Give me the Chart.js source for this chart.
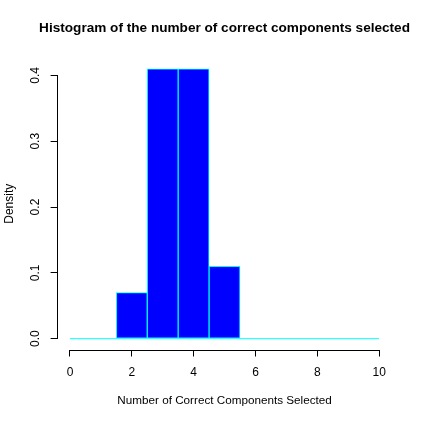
<!DOCTYPE html>
<html lang="en">
<head>
<meta charset="UTF-8">
<title>Histogram of the number of correct components selected</title>
<script src="https://cdn.jsdelivr.net/npm/chart.js@4"></script>
<style>
  body { margin: 0; background: #fff; }
  canvas { display: block; }
</style>
</head>
<body>
<canvas id="hist" width="421" height="421"></canvas>
<script>
// bin centres (unit width bins) and their densities
const binCentres = [0, 1, 2, 3, 4, 5, 6, 7, 8, 9, 10];
const densities = [0, 0, 0.07, 0.41, 0.41, 0.11, 0, 0, 0, 0, 0];
const baselineX = [0, 10];
const xTicks = [0, 2, 4, 6, 8, 10];
const yTicks = [0, 0.1, 0.2, 0.3, 0.4];
const mainTitle = 'Histogram of the number of correct components selected';

const font = "'Liberation Sans', Arial, Helvetica, sans-serif";
Chart.defaults.font.family = font;
Chart.defaults.color = '#000';

// R style: title centred over the plot region, detached axis lines, vertical y labels
const rAxes = {
  id: 'rAxes',
  afterDraw(chart) {
    const ctx = chart.ctx, area = chart.chartArea;
    const xs = chart.scales.x, ys = chart.scales.y;
    ctx.save();
    ctx.strokeStyle = '#000';
    ctx.lineWidth = 1;
    ctx.beginPath();
    const yy = Math.round(area.bottom) + 0.5;
    ctx.moveTo(xs.getPixelForValue(xTicks[0]), yy);
    ctx.lineTo(xs.getPixelForValue(xTicks[xTicks.length - 1]), yy);
    const xx = Math.round(area.left) - 0.5;
    ctx.moveTo(xx, ys.getPixelForValue(yTicks[0]));
    ctx.lineTo(xx, ys.getPixelForValue(yTicks[yTicks.length - 1]));
    ctx.stroke();

    ctx.fillStyle = '#000';
    ctx.textAlign = 'center';
    ctx.textBaseline = 'middle';
    ctx.font = 'bold 13.6px ' + font;
    ctx.fillText(mainTitle, (area.left + area.right) / 2, 28.5);

    ctx.font = '12px ' + font;
    yTicks.forEach(v => {
      ctx.save();
      ctx.translate(area.left - 22, ys.getPixelForValue(v));
      ctx.rotate(-Math.PI / 2);
      ctx.fillText(v.toFixed(1), 0, 0);
      ctx.restore();
    });
    ctx.restore();
  }
};

new Chart(document.getElementById('hist'), {
  type: 'bar',
  data: {
    datasets: [{
      type: 'bar',
      data: binCentres.map((c, i) => ({ x: c, y: densities[i] })),
      backgroundColor: '#0000ff',
      borderColor: '#00ffff',
      borderWidth: 1,
      borderSkipped: false,
      barPercentage: 1,
      categoryPercentage: 1,
      order: 1
    }, {
      type: 'line',
      data: baselineX.map(v => ({ x: v, y: 0 })),
      borderColor: '#00ffff',
      borderWidth: 1,
      pointRadius: 0,
      order: 2
    }]
  },
  options: {
    responsive: false,
    animation: false,
    layout: { padding: { top: 58, right: 29.5 } },
    plugins: {
      legend: { display: false },
      tooltip: { enabled: false },
      title: { display: false }
    },
    scales: {
      x: {
        type: 'linear',
        min: -0.4,
        max: 10.4,
        offset: false,
        afterBuildTicks: s => { s.ticks = xTicks.map(v => ({ value: v })); },
        afterFit: s => { s.height = 71.5; },
        grid: { display: true, drawOnChartArea: false, color: '#000', tickLength: 7, offset: false },
        border: { display: false },
        ticks: { font: { size: 12 }, padding: 9, maxRotation: 0, autoSkip: false },
        title: {
          display: true,
          text: 'Number of Correct Components Selected',
          font: { size: 11.7 },
          padding: { top: 0, bottom: 12.8 }
        }
      },
      y: {
        type: 'linear',
        min: -0.0164,
        max: 0.4264,
        afterBuildTicks: s => { s.ticks = yTicks.map(v => ({ value: v })); },
        afterFit: s => { s.width = 57.6; },
        grid: { display: true, drawOnChartArea: false, color: '#000', tickLength: 7 },
        border: { display: false },
        ticks: { display: false },
        title: {
          display: true,
          text: 'Density',
          font: { size: 12 },
          padding: { top: 2.8, bottom: 0 }
        }
      }
    }
  },
  plugins: [rAxes]
});
</script>
</body>
</html>
